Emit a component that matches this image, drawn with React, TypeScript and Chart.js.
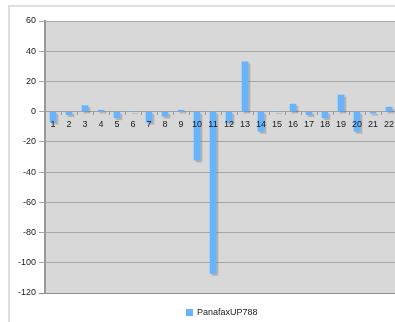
import React, { useEffect, useRef } from "react";
import { Chart, registerables } from "chart.js";

Chart.register(...registerables);

const categories = ["1", "2", "3", "4", "5", "6", "7", "8", "9", "10", "11", "12", "13", "14", "15", "16", "17", "18", "19", "20", "21", "22"];
const seriesName = "PanafaxUP788";
const seriesValues = [-7, -2, 4, 1, -4, 0, -7, -3, 1, -32, -107, -7, 33, -13, 0, 5, -2, -4, 11, -13, -1, 3];
const yMin = -120;
const yMax = 60;
const yStep = 20;

const BAR_COLOR = "#66b3ff";
const PLOT_BG = "#d8d8d8";
const FONT = "'Liberation Sans', Arial, sans-serif";

// gray plot background behind the grid
const plotBackground = {
  id: "plotBackground",
  beforeDraw(chart: any) {
    const { ctx, chartArea } = chart;
    if (!chartArea) return;
    ctx.save();
    ctx.fillStyle = PLOT_BG;
    ctx.fillRect(chartArea.left, chartArea.top, chartArea.right - chartArea.left, chartArea.bottom - chartArea.top);
    ctx.restore();
  },
};

// soft drop shadow under the bars
const barShadow = {
  id: "barShadow",
  beforeDatasetsDraw(chart: any) {
    const c = chart.ctx;
    c.save();
    c.shadowColor = "rgba(0,0,0,0.18)";
    c.shadowOffsetX = 2;
    c.shadowOffsetY = 2;
    c.shadowBlur = 1;
  },
  afterDatasetsDraw(chart: any) {
    chart.ctx.restore();
  },
};

export default function App() {
  const canvasRef = useRef<HTMLCanvasElement | null>(null);

  useEffect(() => {
    const canvas = canvasRef.current;
    if (!canvas) return;
    const chart = new Chart(canvas, {
      type: "bar",
      data: {
        labels: categories,
        datasets: [
          {
            label: seriesName,
            data: seriesValues,
            backgroundColor: BAR_COLOR,
            borderWidth: 0,
            barThickness: 6,
          },
        ],
      },
      options: {
        responsive: false,
        animation: false,
        devicePixelRatio: 1,
        layout: { padding: { top: 21, bottom: 29, left: 0, right: 23 } },
        plugins: {
          legend: { display: false },
          tooltip: { enabled: false },
        },
        scales: {
          x: {
            position: { y: 0 } as any,
            offset: true,
            grid: {
              offset: true,
              drawOnChartArea: false,
              drawTicks: true,
              tickLength: 3,
              color: "#999999",
            },
            border: { display: true, color: "#a0a0a0", width: 1 },
            ticks: {
              z: 1,
              padding: 4,
              color: "#1a1a1a",
              font: { family: FONT, size: 9 },
              maxRotation: 0,
              autoSkip: false,
            },
          },
          y: {
            min: yMin,
            max: yMax,
            afterFit(scale: any) {
              scale.width = 45;
            },
            grid: {
              color: (ctx: any) => (ctx.tick && ctx.tick.value === yMin ? "#8c8c8c" : "#a8a8a8"),
              lineWidth: 1,
              drawTicks: true,
              tickLength: 6,
            },
            border: { display: true, color: "#999999", width: 2 },
            ticks: {
              stepSize: yStep,
              padding: 3,
              color: "#1a1a1a",
              font: { family: FONT, size: 9 },
            },
          },
        },
      },
      plugins: [plotBackground, barShadow],
    });
    return () => chart.destroy();
  }, []);

  return (
    <div
      style={{
        position: "fixed",
        left: 0,
        top: 0,
        width: 395,
        height: 322,
        overflow: "hidden",
        background: "#ffffff",
      }}
    >
      <div
        style={{
          position: "absolute",
          left: 8,
          top: 5,
          width: 500,
          height: 400,
          borderTop: "2px solid #dedede",
          borderLeft: "2px solid #dedede",
        }}
      />
      <canvas
        ref={canvasRef}
        width={420}
        height={322}
        style={{ position: "absolute", left: 0, top: 0, width: 420, height: 322 }}
      />
      <div
        style={{
          position: "absolute",
          left: 186,
          top: 306,
          display: "flex",
          alignItems: "center",
          fontFamily: FONT,
          fontSize: 9,
          color: "#1a1a1a",
          lineHeight: "12px",
          whiteSpace: "nowrap",
        }}
      >
        <span style={{ display: "inline-block", width: 7, height: 7, background: BAR_COLOR, marginRight: 4 }} />
        <span>{seriesName}</span>
      </div>
    </div>
  );
}
